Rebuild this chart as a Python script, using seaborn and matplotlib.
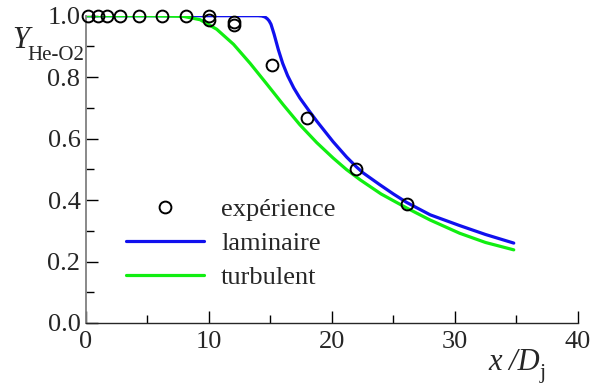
import numpy as np
import pandas as pd
import matplotlib
matplotlib.use("Agg")
import matplotlib.pyplot as plt
import seaborn as sns
from matplotlib.ticker import MultipleLocator

# experimental points
x_exp = [0.2, 1.0, 1.7, 2.8, 4.3, 6.2, 8.1, 10.0, 10.0, 12.0, 12.0, 15.1, 18.0, 22.0, 26.1]
y_exp = [1.0, 1.0, 1.0, 1.0, 1.0, 1.0, 1.0, 1.0, 0.986, 0.978, 0.970, 0.840, 0.667, 0.502, 0.388]

# laminar model
x_lam = [0.0, 5.0, 10.0, 14.0, 14.3, 14.55, 14.75, 14.9, 15.05, 15.3, 15.65, 16.0, 16.4, 16.9, 17.4,
         18.1, 18.77, 20.1, 21.2, 22.0, 22.56, 23.9, 25.0, 26.1, 28.0, 30.4, 32.5, 34.8]
y_lam = [1.0, 1.0, 1.0, 1.0, 0.999, 0.996, 0.99, 0.983, 0.972, 0.94, 0.889, 0.845, 0.805, 0.765, 0.732,
         0.693, 0.657, 0.590, 0.540, 0.508, 0.488, 0.45, 0.42, 0.392, 0.352, 0.317, 0.288, 0.26]

# turbulent model
x_turb = [0.0, 5.0, 7.9, 9.28, 10.63, 12.0, 13.35, 14.7, 16.05, 17.4, 18.77, 20.1, 21.2, 22.3, 24.0,
          26.1, 28.0, 30.4, 32.5, 34.8]
y_turb = [1.0, 1.0, 0.998, 0.987, 0.956, 0.907, 0.845, 0.778, 0.71, 0.645, 0.587, 0.537, 0.499, 0.466, 0.42,
          0.374, 0.335, 0.292, 0.262, 0.238]

df_exp = pd.DataFrame({'x': x_exp, 'y': y_exp})
df_lam = pd.DataFrame({'x': x_lam, 'y': y_lam})
df_turb = pd.DataFrame({'x': x_turb, 'y': y_turb})

sns.set_style("ticks")
plt.rcParams['font.family'] = 'serif'
plt.rcParams['font.serif'] = ['Liberation Serif', 'Times New Roman', 'DejaVu Serif']
plt.rcParams['lines.solid_joinstyle'] = 'round'
fs = 19

fig = plt.figure(figsize=(5.92, 3.83), dpi=100)
ax = fig.add_axes([0.1453, 0.1567, 0.8305, 0.8023])

sns.lineplot(x='x', y='y', data=df_lam, ax=ax, color='#1010ee', lw=2.3, label='laminaire', sort=False)
sns.lineplot(x='x', y='y', data=df_turb, ax=ax, color='#11ee11', lw=2.3, label='turbulent', sort=False)
ax.plot(df_exp['x'], df_exp['y'], 'o', mfc='none', mec='black', ms=8.5, mew=1.4,
        clip_on=False, zorder=5, label='expérience')

ax.set_xlim(0, 40)
ax.set_ylim(0, 1.0)
ax.xaxis.set_major_locator(MultipleLocator(10))
ax.xaxis.set_minor_locator(MultipleLocator(5))
ax.yaxis.set_minor_locator(MultipleLocator(0.1))
ax.set_yticks([0.0, 0.2, 0.4, 0.6, 0.8, 1.0])
ax.set_yticklabels(['0.0', '0.2', '0.4', '0.6', '0.8', '1.0'])
ax.tick_params(which='both', direction='in', labelsize=fs, color='black')
ax.tick_params(which='major', length=8.5, width=1)
ax.tick_params(which='minor', length=5.5, width=1)
ax.tick_params(axis='y', pad=4)
ax.tick_params(axis='x', pad=6)
sns.despine(ax=ax)
ax.spines['left'].set_color('#808080')
ax.spines['left'].set_linewidth(1.3)
ax.spines['bottom'].set_linewidth(1.0)
ax.set_xlabel('')
ax.set_ylabel('')

# y label at top left
fig.text(12 / 592, 1 - 40 / 383, 'Y', fontsize=22, style='italic', va='center', ha='left')
fig.text(27 / 592, 1 - 60 / 383, 'He-O2', fontsize=15, va='baseline', ha='left')
# x label at bottom right
fig.text(488 / 592, 1 - 362 / 383, 'x /D', fontsize=22, style='italic', va='center', ha='left')
fig.text(540 / 592, 1 - 378 / 383, 'j', fontsize=16, va='baseline', ha='left')

h, l = ax.get_legend_handles_labels()
order = [2, 0, 1]
ax.legend([h[i] for i in order], [l[i] for i in order], frameon=False, fontsize=fs,
          loc='upper left', bbox_to_anchor=(0.044, 0.469), handlelength=2.95,
          handletextpad=0.65, labelspacing=0.4, borderpad=0.2)

fig.savefig('out.png', dpi=100)
